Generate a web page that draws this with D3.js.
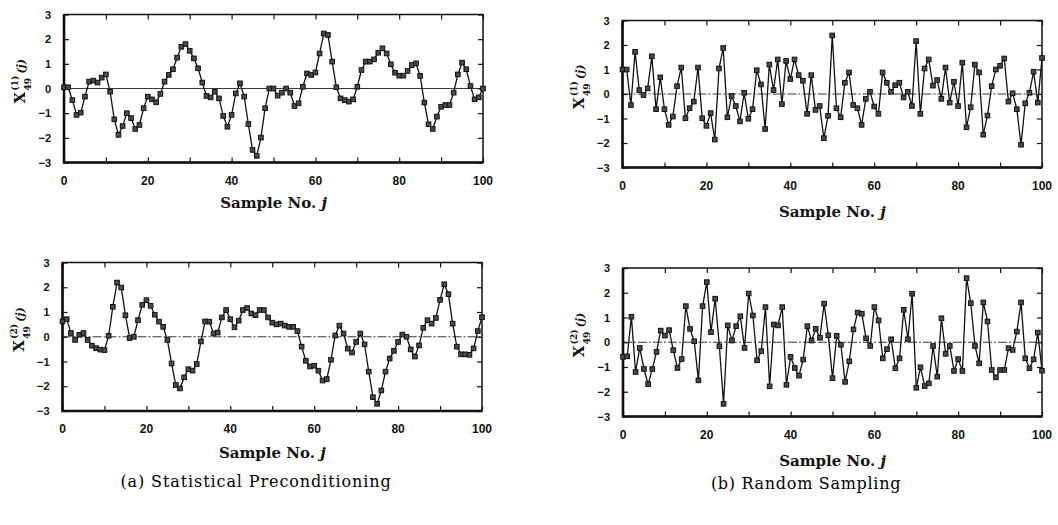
<!DOCTYPE html>
<html>
<head>
<meta charset="utf-8">
<script src="https://cdn.jsdelivr.net/npm/d3@7"></script>
<style>
  body { margin: 0; background: #ffffff; }
</style>
</head>
<body>
<div id="graf"></div>
<script>
// Datos: X49(j) para j = 0..100
var muestras = d3.range(0, 101);

var precond1 = [0.05, 0.05, -0.47, -1.07, -0.98, -0.33, 0.28, 0.32, 0.24, 0.44,
  0.57, -0.13, -1.25, -1.88, -1.52, -1.0, -1.2, -1.64, -1.48, -0.8,
  -0.33, -0.44, -0.56, -0.22, 0.28, 0.55, 0.78, 1.25, 1.69, 1.8,
  1.53, 1.22, 0.82, 0.24, -0.3, -0.36, -0.13, -0.4, -1.11, -1.55,
  -1.07, -0.2, 0.21, -0.33, -1.44, -2.49, -2.73, -1.99, -0.8, 0.0,
  0.0, -0.29, -0.17, 0.0, -0.17, -0.71, -0.6, 0.07, 0.61, 0.55,
  0.65, 1.42, 2.23, 2.17, 1.09, 0.05, -0.4, -0.47, -0.53, -0.44,
  0.07, 0.75, 1.09, 1.09, 1.18, 1.45, 1.63, 1.42, 0.98, 0.64,
  0.52, 0.52, 0.71, 0.95, 1.02, 0.51, -0.57, -1.45, -1.64, -1.14,
  -0.74, -0.67, -0.67, -0.17, 0.57, 1.05, 0.78, 0.1, -0.44, -0.36,
  0.0];

var precond2 = [0.62, 0.71, 0.15, -0.13, 0.08, 0.15, -0.13, -0.36, -0.46, -0.52,
  -0.54, 0.04, 1.21, 2.19, 1.99, 0.87, -0.05, 0.0, 0.67, 1.29,
  1.48, 1.25, 0.89, 0.61, 0.4, -0.13, -1.08, -1.95, -2.09, -1.64,
  -1.31, -1.37, -1.1, -0.19, 0.62, 0.61, 0.13, 0.17, 0.78, 1.08,
  0.71, 0.38, 0.65, 1.08, 1.16, 0.94, 0.87, 1.08, 1.08, 0.78,
  0.57, 0.5, 0.53, 0.45, 0.4, 0.4, 0.23, -0.4, -0.97, -1.2,
  -1.17, -1.37, -1.77, -1.71, -0.93, 0.05, 0.45, 0.13, -0.48, -0.64,
  -0.21, 0.13, -0.31, -1.41, -2.44, -2.71, -2.17, -1.41, -0.88, -0.57,
  -0.21, 0.09, 0.0, -0.51, -0.8, -0.35, 0.36, 0.67, 0.53, 0.76,
  1.49, 2.12, 1.72, 0.53, -0.4, -0.71, -0.71, -0.73, -0.47, 0.23,
  0.79];

var aleatorio1 = [1.0, 1.0, -0.45, 1.72, 0.16, -0.04, 0.23, 1.54, -0.62, 0.68,
  -0.62, -1.26, -0.92, 0.32, 1.08, -0.99, -0.58, -0.31, 1.08, -0.99,
  -1.3, -0.78, -1.86, 1.04, 1.88, -0.95, -0.08, -0.49, -1.12, 0.05,
  -1.01, -0.62, 0.97, 0.39, -1.43, 1.2, 0.16, 1.41, -0.41, 1.35,
  0.61, 1.41, 0.77, 0.54, -0.81, 0.77, -0.65, -0.49, -1.8, -0.89,
  2.39, -0.58, -0.95, 0.46, 0.88, -0.45, -0.58, -1.26, -0.2, 0.09,
  -0.51, -0.81, 0.88, 0.46, 0.09, 0.36, 0.46, -0.14, 0.09, -0.49,
  2.16, -0.81, 1.04, 1.41, 0.34, 0.57, -0.2, 1.08, -0.35, 0.5,
  -0.49, 1.28, -1.36, -0.54, 1.2, 0.88, -1.66, -0.88, 0.32, 1.0,
  1.15, 1.45, -0.31, 0.03, -0.62, -2.07, -0.38, 0.05, 0.91, -0.35,
  1.47];

var aleatorio2 = [-0.59, -0.57, 1.03, -1.2, -0.23, -1.08, -1.69, -1.08, -0.39, 0.47,
  0.27, 0.49, -0.32, -1.04, -0.68, 1.46, 0.54, 0.04, -1.54, 1.46,
  2.43, 0.41, 1.76, -0.16, -2.49, 0.68, 0.07, 0.65, 1.05, -0.23,
  1.97, 1.08, -0.73, -0.36, 1.42, -1.78, 0.72, 0.68, 1.42, -1.72,
  -0.59, -1.04, -1.35, -0.7, 0.65, 0.07, 0.54, 0.18, 1.56, 0.28,
  -1.45, 0.26, -0.1, -1.6, -0.77, 0.52, 1.2, 1.15, 0.16, -0.15,
  1.42, 0.88, -0.65, -0.28, 0.12, -1.05, -0.65, 1.31, 0.12, 1.96,
  -1.84, -1.01, -1.77, -1.66, -0.15, -1.39, 0.97, -0.47, -0.15, -1.16,
  -0.68, -1.16, 2.59, 1.58, -0.15, -0.85, 1.61, 0.84, -1.12, -1.42,
  -1.12, -1.12, -0.24, -0.31, 0.43, 1.61, -0.65, -1.05, -0.69, 0.39,
  -1.15];

// Etiquetas de los ejes
var ticksX = [0, 20, 40, 60, 80, 100];
var ticksXmenor = [0, 10, 20, 30, 40, 50, 60, 70, 80, 90, 100];
var ticksY = [-3, -2, -1, 0, 1, 2, 3];
var etiquetaX = "Sample No. ";
var subtitulos = ["(a) Statistical Preconditioning", "(b) Random Sampling"];

var ancho = 1058;
var alto = 525;

var svg = d3.select("#graf")
  .append("svg")
  .attr("width", ancho)
  .attr("height", alto);

// Dibuja un panel
function panel(datos, caja, indice, punteado) {
  var g = svg.append("g");

  var x = d3.scaleLinear()
    .domain([0, 100])
    .range([caja.izq, caja.der]);

  var y = d3.scaleLinear()
    .domain([-3, 3])
    .range([caja.abajo, caja.arriba]);

  // linea del cero
  g.append("line")
    .attr("x1", x(0)).attr("x2", x(100))
    .attr("y1", y(0)).attr("y2", y(0))
    .attr("stroke", "#222")
    .attr("stroke-width", 0.9)
    .attr("stroke-dasharray", punteado ? "9,2,2,2" : null);

  // ticks internos
  g.append("g")
    .attr("transform", "translate(0," + caja.abajo + ")")
    .call(d3.axisBottom(x).tickValues(ticksXmenor).tickSize(-5).tickFormat(""))
    .call(function(s){ s.select(".domain").remove(); });
  g.append("g")
    .attr("transform", "translate(0," + caja.arriba + ")")
    .call(d3.axisTop(x).tickValues(ticksXmenor).tickSize(-5).tickFormat(""))
    .call(function(s){ s.select(".domain").remove(); });
  g.append("g")
    .attr("transform", "translate(" + caja.izq + ",0)")
    .call(d3.axisLeft(y).tickValues(ticksY).tickSize(-5).tickFormat(""))
    .call(function(s){ s.select(".domain").remove(); });
  g.append("g")
    .attr("transform", "translate(" + caja.der + ",0)")
    .call(d3.axisRight(y).tickValues(ticksY).tickSize(-5).tickFormat(""))
    .call(function(s){ s.select(".domain").remove(); });
  g.selectAll(".tick line").attr("stroke", "#111").attr("stroke-width", 1.2);

  // etiquetas numericas
  g.append("g")
    .selectAll("text")
    .data(ticksX)
    .enter()
    .append("text")
    .text(function(d){ return d; })
    .attr("x", function(d){ return x(d); })
    .attr("y", caja.abajo + 22)
    .style("text-anchor", "middle")
    .attr("font-family", "Liberation Sans, Arial, sans-serif")
    .attr("font-weight", "bold")
    .attr("font-size", "12px")
    .attr("fill", "#111");

  g.append("g")
    .selectAll("text")
    .data(ticksY)
    .enter()
    .append("text")
    .text(function(d){ return d < 0 ? "\u2212" + Math.abs(d) : d; })
    .attr("x", caja.izq - 13)
    .attr("y", function(d){ return y(d) + 4; })
    .style("text-anchor", "end")
    .attr("font-family", "Liberation Sans, Arial, sans-serif")
    .attr("font-weight", "bold")
    .attr("font-size", "11px")
    .attr("fill", "#111");

  // marco
  g.append("rect")
    .attr("x", caja.izq).attr("y", caja.arriba)
    .attr("width", caja.der - caja.izq)
    .attr("height", caja.abajo - caja.arriba)
    .attr("fill", "none")
    .attr("stroke", "#111")
    .attr("stroke-width", 1.5);
  g.append("path")
    .attr("d", "M" + caja.izq + "," + caja.arriba + "V" + caja.abajo + "H" + caja.der)
    .attr("fill", "none")
    .attr("stroke", "#111")
    .attr("stroke-width", 2.6);

  // la serie
  var linea = d3.line()
    .x(function(d, i){ return x(muestras[i]); })
    .y(function(d){ return y(d); });

  g.append("path")
    .datum(datos)
    .attr("d", linea)
    .attr("fill", "none")
    .attr("stroke", "#111")
    .attr("stroke-width", 1.3);

  g.append("g")
    .selectAll("rect")
    .data(datos)
    .enter()
    .append("rect")
    .attr("x", function(d, i){ return x(muestras[i]) - 2.3; })
    .attr("y", function(d){ return y(d) - 2.3; })
    .attr("width", 4.6)
    .attr("height", 4.6)
    .attr("fill", "#4a4a4a")
    .attr("stroke", "#111")
    .attr("stroke-width", 1);

  // etiqueta eje x
  var tx = g.append("text")
    .attr("x", (caja.izq + caja.der) / 2)
    .attr("y", caja.etiqueta)
    .style("text-anchor", "middle")
    .attr("font-family", "DejaVu Serif, serif")
    .attr("font-weight", "bold")
    .attr("font-size", "15px")
    .attr("fill", "#111");
  tx.append("tspan").text(etiquetaX);
  tx.append("tspan").text("j").attr("font-style", "italic");

  // etiqueta eje y: X con (1) arriba y 49 abajo, luego (j)
  var cy = (caja.arriba + caja.abajo) / 2 + 15;
  var gy = g.append("g")
    .attr("transform", "translate(" + (caja.izq - 39) + "," + cy + ") rotate(-90)")
    .attr("font-family", "DejaVu Serif, serif")
    .attr("font-weight", "bold")
    .attr("fill", "#111");
  gy.append("text").text("X").attr("x", 0).attr("y", 0).attr("font-size", "15px");
  gy.append("text").text("(" + indice + ")").attr("x", 13).attr("y", -7).attr("font-size", "9px");
  gy.append("text").text("49").attr("x", 13).attr("y", 6).attr("font-size", "9px");
  gy.append("text").text("(j)").attr("x", 30).attr("y", 0).attr("font-size", "11px")
    .attr("font-style", "italic");
}

panel(precond1, {izq: 64, der: 483, arriba: 14.5, abajo: 162.5, etiqueta: 208}, 1, false);
panel(precond2, {izq: 62.5, der: 482, arriba: 262.5, abajo: 411, etiqueta: 458}, 2, true);
panel(aleatorio1, {izq: 622.5, der: 1042, arriba: 20.5, abajo: 167.5, etiqueta: 217}, 1, true);
panel(aleatorio2, {izq: 623, der: 1042, arriba: 268, abajo: 416.5, etiqueta: 466}, 2, true);

// Subtitulos
svg.append("text")
  .text(subtitulos[0])
  .attr("x", 256)
  .attr("y", 487)
  .style("text-anchor", "middle")
  .attr("font-family", "DejaVu Serif, serif")
  .attr("font-size", "16px")
  .attr("letter-spacing", "0.9px")
  .attr("fill", "#000");

svg.append("text")
  .text(subtitulos[1])
  .attr("x", 806)
  .attr("y", 489)
  .style("text-anchor", "middle")
  .attr("font-family", "DejaVu Serif, serif")
  .attr("font-size", "16px")
  .attr("letter-spacing", "0.7px")
  .attr("fill", "#000");
</script>
</body>
</html>
